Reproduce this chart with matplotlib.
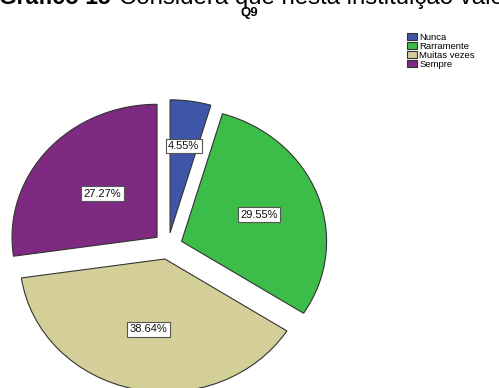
import matplotlib
matplotlib.use("Agg")
import matplotlib.pyplot as plt
import numpy as np

plt.rcParams["font.family"] = ["Liberation Sans", "DejaVu Sans"]

categorias = ["Nunca", "Rarramente", "Muitas vezes", "Sempre"]
contagens = [2, 13, 17, 12]
cores = ["#3F55A8", "#3CBC48", "#D4CF98", "#7D2A80"]
dist_rotulos = [0.66, 0.57, 0.54, 0.50]

fig = plt.figure(figsize=(4.99, 3.88), dpi=100)
ax = fig.add_axes([0, 0, 1, 1])

fatias, textos, pcts = ax.pie(
    contagens, colors=cores, startangle=90, counterclock=False,
    explode=[0.1] * 4, autopct=lambda p: "%.2f%%" % p, pctdistance=0.55,
    wedgeprops=dict(edgecolor="#333333", linewidth=0.8),
    textprops=dict(fontsize=8, color="#111111"))

# reposiciona cada rótulo de percentagem ao longo da bissetriz da fatia
for f, t, d in zip(fatias, pcts, dist_rotulos):
    ang = np.deg2rad((f.theta1 + f.theta2) / 2)
    cx, cy = f.center
    t.set_position((cx + d * np.cos(ang), cy + d * np.sin(ang)))
    t.set_bbox(dict(boxstyle="square,pad=0.22", facecolor="white",
                    edgecolor="#555555", linewidth=0.8))

# pizza achatada: escalas diferentes em x e y
ax.set_aspect("auto")
cx_px, cy_px, rx, ry = 168, 246, 145, 133
ax.set_xlim(-cx_px / rx, (499 - cx_px) / rx)
ax.set_ylim(-(388 - cy_px) / ry, cy_px / ry)
ax.axis("off")

fig.text(-0.002, 1 - 4 / 388, "Gráfico 15", fontsize=16.5, fontweight="bold",
         va="baseline", ha="left")
fig.text(119 / 499, 1 - 4 / 388, "Considera que nesta instituição valoriza",
         fontsize=17.3, va="baseline", ha="left")
fig.text(249 / 499, 1 - 16 / 388, "Q9", fontsize=9.5, fontweight="bold",
         va="baseline", ha="center")

leg = fig.legend(fatias, categorias, loc="upper left",
                 bbox_to_anchor=(400 / 499, 1 - 26 / 388),
                 frameon=False, fontsize=6.8, handlelength=1.1,
                 handleheight=0.85, handletextpad=0.25, labelspacing=0.0,
                 borderpad=0.2)

fig.savefig("out.png", dpi=100)
